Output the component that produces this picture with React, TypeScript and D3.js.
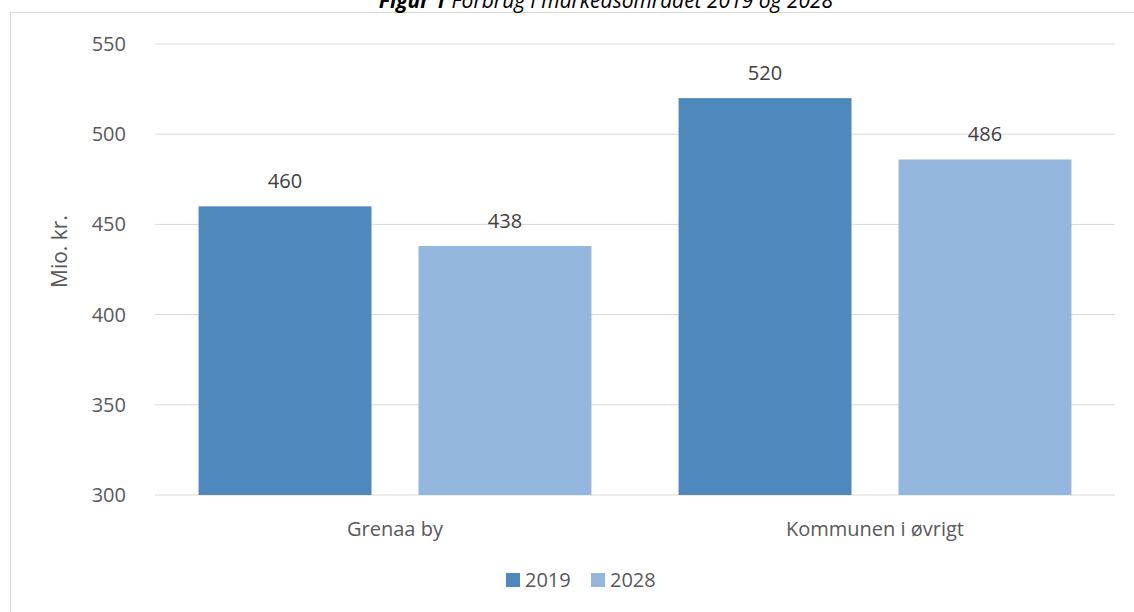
import React from "react";
import * as d3 from "d3";

const categories = ["Grenaa by", "Kommunen i øvrigt"];
const seriesNames = ["2019", "2028"];
const values2019 = [460, 520];
const values2028 = [438, 486];
const yTicks = [300, 350, 400, 450, 500, 550];
const colors = ["#4f88bc", "#95b7de"];

const W = 1134;
const H = 612;
const plot = { left: 155, right: 1115, top: 44, bottom: 495 };
const font = "'Open Sans', 'Liberation Sans', sans-serif";
const textColor = "#595959";

export default function App() {
  const y = d3.scaleLinear().domain([300, 550]).range([plot.bottom, plot.top]);
  const x0 = d3.scaleBand<string>().domain(categories).range([plot.left, plot.right]).padding(0);
  const x1 = d3
    .scaleBand<string>()
    .domain(seriesNames)
    .range([0, x0.bandwidth()])
    .paddingInner(0.2136)
    .paddingOuter(0.198);
  const series = [values2019, values2028];

  return (
    <svg width={W} height={H} style={{ position: "absolute", left: 0, top: 0, background: "#fff" }}>
      <rect x={10.5} y={12.5} width={W + 10} height={H + 10} fill="#fff" stroke="#d9d9d9" strokeWidth={1} />
      <text x={606} y={8} textAnchor="middle" fontFamily={font} fontStyle="italic" fontSize={21} fill="#000">
        <tspan fontWeight="bold">Figur 1</tspan>
        <tspan> Forbrug i markedsområdet 2019 og 2028</tspan>
      </text>
      {yTicks.map((t) => (
        <g key={t}>
          <line x1={plot.left} x2={plot.right} y1={y(t)} y2={y(t)} stroke="#d9d9d9" strokeWidth={1} />
          <text x={126} y={y(t)} dy="0.35em" textAnchor="end" fontFamily={font} fontSize={20} fill={textColor}>
            {t}
          </text>
        </g>
      ))}
      <text
        transform={`translate(60, ${(plot.top + plot.bottom) / 2 - 18}) rotate(-90)`}
        textAnchor="middle"
        dy="0.35em"
        fontFamily={font}
        fontSize={21}
        fill={textColor}
      >
        Mio. kr.
      </text>
      {categories.map((c, ci) => (
        <g key={c} transform={`translate(${x0(c)},0)`}>
          {seriesNames.map((s, si) => {
            const v = series[si][ci];
            const bx = x1(s) as number;
            return (
              <g key={s}>
                <rect x={bx} y={y(v)} width={x1.bandwidth()} height={plot.bottom - y(v)} fill={colors[si]} />
                <text
                  x={bx + x1.bandwidth() / 2}
                  y={y(v) - 18}
                  textAnchor="middle"
                  fontFamily={font}
                  fontSize={20}
                  fill="#404040"
                >
                  {v}
                </text>
              </g>
            );
          })}
          <text
            x={x0.bandwidth() / 2}
            y={529}
            dy="0.35em"
            textAnchor="middle"
            fontFamily={font}
            fontSize={20}
            fill={textColor}
          >
            {c}
          </text>
        </g>
      ))}
      <g>
        {seriesNames.map((s, i) => {
          const lx = 506 + i * 85;
          return (
            <g key={s}>
              <rect x={lx} y={573} width={14} height={14} fill={colors[i]} />
              <text x={lx + 19} y={580} dy="0.35em" fontFamily={font} fontSize={20} fill={textColor}>
                {s}
              </text>
            </g>
          );
        })}
      </g>
    </svg>
  );
}
